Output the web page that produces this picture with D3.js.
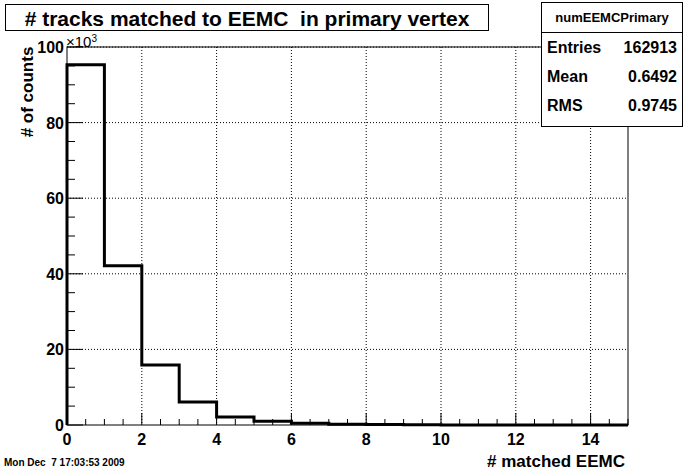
<!DOCTYPE html>
<html><head><meta charset="utf-8">
<script src="https://d3js.org/d3.v7.min.js"></script>
<style>body{margin:0;background:#fff}text{font-family:"Liberation Sans",Arial,sans-serif}</style>
</head><body>
<svg id="c" width="686" height="471"></svg>
<script>
// bin contents (x10^3), bins of width 1 from 0 to 15
var binEdges = d3.range(0, 16);
var counts = [95.3, 42.1, 15.9, 6.1, 2.1, 1.0, 0.45, 0.2, 0.1, 0.05, 0.02, 0.01, 0.01, 0, 0];
var xTicks = [0, 2, 4, 6, 8, 10, 12, 14];
var yTicks = [0, 20, 40, 60, 80, 100];
var stats = [["Entries", "162913"], ["Mean", "0.6492"], ["RMS", "0.9745"]];

var svg = d3.select("#c");
var L = 67, R = 628, T = 47, B = 425;
var x = d3.scaleLinear().domain([0, 15]).range([L, R]);
var y = d3.scaleLinear().domain([0, 100]).range([B, T]);

// grid
svg.selectAll(".gx").data(xTicks.slice(1)).enter().append("line")
  .attr("x1", d => x(d)).attr("x2", d => x(d)).attr("y1", T).attr("y2", B)
  .attr("stroke", "#000").attr("stroke-dasharray", "1,2");
svg.selectAll(".gy").data(yTicks.slice(1)).enter().append("line")
  .attr("x1", L).attr("x2", R).attr("y1", d => y(d)).attr("y2", d => y(d))
  .attr("stroke", "#000").attr("stroke-dasharray", "1,2");

svg.append("rect").attr("x", L).attr("y", T).attr("width", R - L).attr("height", B - T)
  .attr("fill", "none").attr("stroke", "#000");

// histogram
var pts = [[x(0), y(0)]];
counts.forEach((c, i) => { pts.push([x(binEdges[i]), y(c)]); pts.push([x(binEdges[i + 1]), y(c)]); });
svg.append("path").attr("d", d3.line()(pts)).attr("fill", "none")
  .attr("stroke", "#000").attr("stroke-width", 3);

// axes
var gx = svg.append("g").attr("transform", "translate(0," + B + ")");
gx.selectAll("line").data(d3.range(0, 15.01, 0.5)).enter().append("line")
  .attr("x1", d => x(d)).attr("x2", d => x(d)).attr("y1", 0)
  .attr("y2", d => d % 2 === 0 ? -12 : -6).attr("stroke", "#000");
gx.selectAll("text").data(xTicks).enter().append("text")
  .attr("x", d => x(d)).attr("y", 20).attr("text-anchor", "middle")
  .attr("font-size", 16).attr("font-weight", "bold").text(d => d);
var gy = svg.append("g");
gy.selectAll("line").data(d3.range(0, 100.1, 5)).enter().append("line")
  .attr("x1", L).attr("x2", d => d % 20 === 0 ? L + 16 : L + 8)
  .attr("y1", d => y(d)).attr("y2", d => y(d)).attr("stroke", "#000");
gy.selectAll("text").data(yTicks).enter().append("text")
  .attr("x", L - 3).attr("y", d => y(d) + 6).attr("text-anchor", "end")
  .attr("font-size", 16).attr("font-weight", "bold").text(d => d);
svg.append("text").attr("x", 66).attr("y", 47).attr("font-size", 15).html("×10<tspan dy='-5' font-size='10'>3</tspan>");

svg.append("text").attr("transform", "translate(33,92) rotate(-90)").attr("text-anchor", "middle")
  .attr("font-size", 17).attr("font-weight", "bold").text("# of counts");
svg.append("text").attr("x", 625).attr("y", 467).attr("text-anchor", "end")
  .attr("font-size", 17).attr("font-weight", "bold").text("# matched EEMC");
svg.append("text").attr("x", 4).attr("y", 466).attr("font-size", 10).attr("font-weight", "bold")
  .text("Mon Dec  7 17:03:53 2009").style("white-space", "pre");

// title
svg.append("rect").attr("x", 5.5).attr("y", 4.5).attr("width", 483).attr("height", 26).attr("fill", "#fff").attr("stroke", "#000");
svg.append("text").attr("x", 247).attr("y", 26).attr("text-anchor", "middle").attr("font-size", 21)
  .attr("font-weight", "bold").style("white-space", "pre").text("# tracks matched to EEMC  in primary vertex");

// stats box
svg.append("rect").attr("x", 541.5).attr("y", 2.5).attr("width", 141).attr("height", 124).attr("fill", "#fff").attr("stroke", "#000");
svg.append("line").attr("x1", 541.5).attr("x2", 682.5).attr("y1", 32.5).attr("y2", 32.5).attr("stroke", "#000");
svg.append("text").attr("x", 612).attr("y", 22).attr("text-anchor", "middle").attr("font-size", 13)
  .attr("font-weight", "bold").text("numEEMCPrimary");
stats.forEach((s, i) => {
  svg.append("text").attr("x", 547).attr("y", 53 + i * 29).attr("font-size", 16).attr("font-weight", "bold").text(s[0]);
  svg.append("text").attr("x", 677).attr("y", 53 + i * 29).attr("text-anchor", "end").attr("font-size", 16).attr("font-weight", "bold").text(s[1]);
});
</script>
</body></html>
